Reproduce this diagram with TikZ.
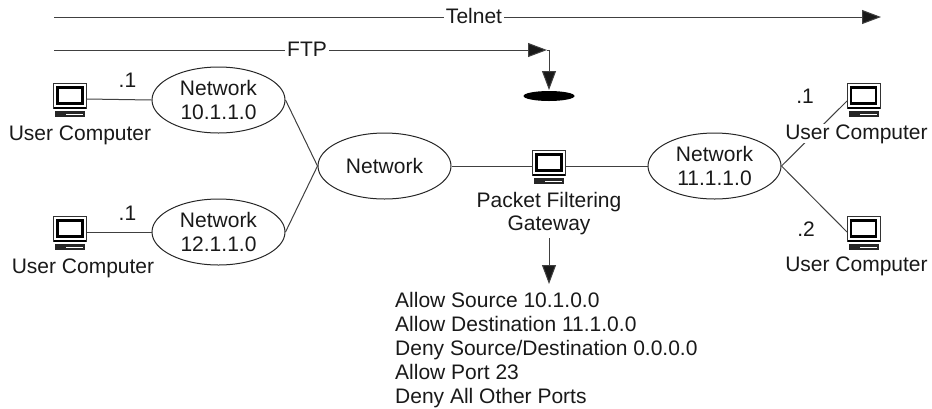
\documentclass[tikz,border=0pt]{standalone}
\usepackage{fontspec}
\setmainfont{Liberation Sans}
\usetikzlibrary{arrows.meta,shapes.geometric}
\tikzset{
 x=1pt,y=-1pt,
 wire/.style={line width=1pt,draw=black!75},
 arrowline/.style={wire,-{Triangle[length=19pt,width=14pt,fill=black!90]}},
 net/.style={draw=black!85,line width=1pt,ellipse,inner sep=0pt,minimum width=133pt,minimum height=66pt,align=center,font=\fontsize{21}{24}\selectfont,text=black!90},
 lab/.style={font=\fontsize{21}{24}\selectfont,inner sep=0pt,text=black!90,anchor=base},
 gap/.style={lab,fill=white,inner xsep=2pt},
 pics/pc/.style={code={
  \draw[black!80,line width=1pt,fill=white] (-16.5,-16) rectangle (16.5,9);
  \draw[black,line width=2.6pt,fill=white] (-12.5,-11.7) rectangle (12.5,4.7);
  \fill[black] (-16,8) rectangle (16,9.5);
  \fill[black!85] (-15,11.5) rectangle (15,18);
  \fill[white] (-4,14.5) rectangle (13,16);
 }}
}
\begin{document}
\begin{tikzpicture}
\useasboundingbox (0,0) rectangle (932,408);
\coordinate (t0) at (54,17); \coordinate (t1) at (881,17);
\coordinate (f0) at (54,50); \coordinate (f1) at (547,50);
\coordinate (fd) at (549,50); \coordinate (fe) at (549,90);
\node[gap] (telnet) at (474,23) {Telnet};
\node[gap] (ftp) at (307,56) {FTP};
\draw[wire] (t0) -- (t0 -| telnet.west);
\draw[arrowline] (t0 -| telnet.east) -- (t1);
\draw[wire] (f0) -- (f0 -| ftp.west);
\draw[arrowline] (f0 -| ftp.east) -- (f1);
\draw[wire] (f1) -- (fd);
\draw[arrowline] (fd) -- (fe);
\node[ellipse,fill=black,inner sep=0pt,minimum width=51pt,minimum height=10pt] (blk) at (549,96) {};
\node[net] (n10) at (218.5,100) {Network\\10.1.1.0};
\node[net] (n12) at (218.5,232) {Network\\12.1.1.0};
\node[net] (nc) at (384.5,166) {Network};
\node[net] (n11) at (714.5,166) {Network\\11.1.1.0};
\coordinate (pa) at (70,99); \coordinate (pb) at (70,232);
\coordinate (pg) at (549,166); \coordinate (pc) at (863.5,99); \coordinate (pd) at (863.5,232);
\foreach \p in {pa,pb,pg,pc,pd} \pic at (\p) {pc};
\draw[wire] (pa) ++(16.5,0) -- (n10.west);
\draw[wire] (pb) ++(16.5,0) -- (n12.west);
\draw[wire] (n10.east) -- (nc.west);
\draw[wire] (n12.east) -- (nc.west);
\draw[wire] (nc.east) -- ++(81,0);
\draw[wire] (pg) ++(16.5,0) -- (n11.west);
\draw[wire] (n11.east) -- (847,101);
\draw[wire] (n11.east) -- (847,232);
\node[lab] (l1) at (127.5,87) {.1};
\node[lab] (l2) at (127.5,220) {.1};
\node[lab] (l3) at (805,103) {.1};
\node[lab] (l4) at (806,236) {.2};
\node[lab] (ua) at (80,140) {User Computer};
\node[lab] (ub) at (83,273) {User Computer};
\node[lab,fill=white] (uc) at (856.5,139) {User Computer};
\node[lab] (ud) at (856.5,271) {User Computer};
\node[lab] (gw1) at (549,207) {Packet Filtering};
\node[lab] (gw2) at (549,230) {Gateway};
\coordinate (ga) at (549,238); \coordinate (gb) at (549,284);
\draw[arrowline] (ga) -- (gb);
\node[lab,anchor=base west] (r1) at (395,307) {Allow Source 10.1.0.0};
\node[lab,anchor=base west] (r2) at (395,331) {Allow Destination 11.1.0.0};
\node[lab,anchor=base west] (r3) at (395,355) {Deny Source/Destination 0.0.0.0};
\node[lab,anchor=base west] (r4) at (395,379) {Allow Port 23};
\node[lab,anchor=base west] (r5) at (395,403) {Deny All Other Ports};
\end{tikzpicture}
\end{document}
